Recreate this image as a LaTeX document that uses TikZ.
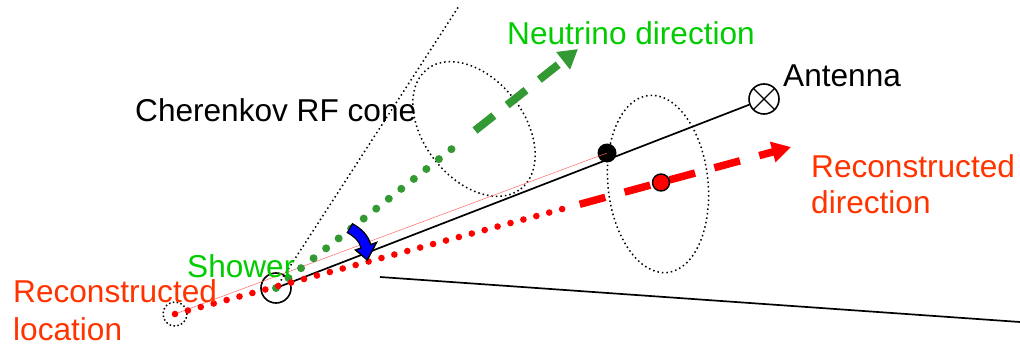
\documentclass[tikz,border=0pt]{standalone}
\usepackage{fontspec}
\setmainfont{Liberation Sans}
\usetikzlibrary{arrows.meta,calc}
\definecolor{gtext}{RGB}{0,204,0}
\definecolor{garrow}{RGB}{51,153,51}
\definecolor{rtext}{RGB}{255,51,0}
\definecolor{rline}{RGB}{255,0,0}
\definecolor{barrow}{RGB}{0,0,255}
\tikzset{
  lbl/.style={anchor=base west,inner sep=0pt,font=\fontsize{31.6}{37}\selectfont},
  ring/.style={circle,draw=black,line width=1.6pt,minimum size=30pt,inner sep=0pt},
  dotring/.style={circle,draw=black,line width=1.5pt,dash pattern=on 1.5pt off 2.4pt,minimum size=24pt,inner sep=0pt},
  antenna/.style={ring,path picture={
      \draw[line width=1.3pt] (path picture bounding box.north west) -- (path picture bounding box.south east);
      \draw[line width=1.3pt] (path picture bounding box.north east) -- (path picture bounding box.south west);}},
  bdot/.style={circle,fill=black,minimum size=19pt,inner sep=0pt},
  rdot/.style={circle,fill=rline,draw=black,line width=1.4pt,minimum size=17pt,inner sep=0pt},
  dotline/.style={black,line width=1.5pt,dash pattern=on 1.5pt off 3pt},
  solidline/.style={black,line width=1.7pt},
  gdots/.style={garrow,line width=8pt,line cap=round,dash pattern=on 0pt off 15.98pt},
  gdash/.style={garrow,line width=8pt,dash pattern=on 24pt off 17pt,-{Triangle[length=19pt,width=21pt]}},
  rdots/.style={rline,line width=6.6pt,line cap=round,dash pattern=on 0pt off 13.37pt},
  rdash/.style={rline,line width=7.5pt,dash pattern=on 26.5pt off 20pt,-{Triangle[length=19pt,width=20pt]}},
}
\begin{document}
\begin{tikzpicture}[x=1pt,y=1pt]
\useasboundingbox (0,0) rectangle (1020,346);
% nodes
\node[ring] (S) at (276,58) {};
\node[dotring] (R) at (175,32) {};
\node[antenna] (A) at (764,247) {};
\coordinate (C) at (459,340);
\coordinate (G1) at (380,69);
\coordinate (G2) at (1020,24);
\coordinate (Gtip) at (578,297);
\coordinate (Rtip) at (791,199);
% cone and ellipses
\draw[dotline] (S.center) -- (C);
\draw[dotline,rotate around={-52:(474,217)}] (474,217) ellipse [x radius=76pt,y radius=50pt];
\draw[dotline,rotate around={6:(658,162)}] (658,162) ellipse [x radius=50pt,y radius=89pt];
% ground line
\draw[solidline] (G1) -- (G2);
% lines
\node[bdot] (B) at (607,193) {};
\draw[rline!60,line width=0.5pt] (R.center) -- (B.center);
\draw[solidline] (S.center) -- (A);
% green direction
\draw[gdots] (S.center) -- ($(S.center)!0.619!(Gtip)$);
\draw[gdash] ($(S.center)!0.659!(Gtip)$) -- (Gtip);
% red direction
\draw[rdots] (R.center) -- ($(R.center)!0.649!(Rtip)$);
\draw[rdash] ($(R.center)!0.657!(Rtip)$) -- (Rtip);
\node[rdot] (D) at (661,163.5) {};
% blue curved arrow
\coordinate (bt) at (350.5,117.5);
\coordinate (bb) at (365.8,99.8);
\draw[black,line width=11.5pt,shorten <=-1.3pt] (bt) .. controls (357,114) and (364,108) .. (bb);
\draw[fill=barrow,draw=black,line width=1.4pt,line join=miter] (355.5,96) -- (367.3,86) -- (376.5,103.5) -- cycle;
\draw[barrow,line width=8.8pt,shorten >=-2.5pt] (bt) .. controls (357,114) and (364,108) .. (bb);
% labels
\node[lbl,text=gtext] (ntxt) at (507,301) {Neutrino direction};
\node[lbl] (atxt) at (783,259) {Antenna};
\node[lbl] (ctxt) at (135,224) {Cherenkov RF cone};
\node[lbl,text=rtext] (rd1) at (811,169) {Reconstructed};
\node[lbl,text=rtext] (rd2) at (811,133) {direction};
\node[lbl,text=gtext] (stxt) at (187,69) {Shower};
\node[lbl,text=rtext] (rl1) at (13,44) {Reconstructed};
\node[lbl,text=rtext] (rl2) at (13,6) {location};
\end{tikzpicture}
\end{document}
